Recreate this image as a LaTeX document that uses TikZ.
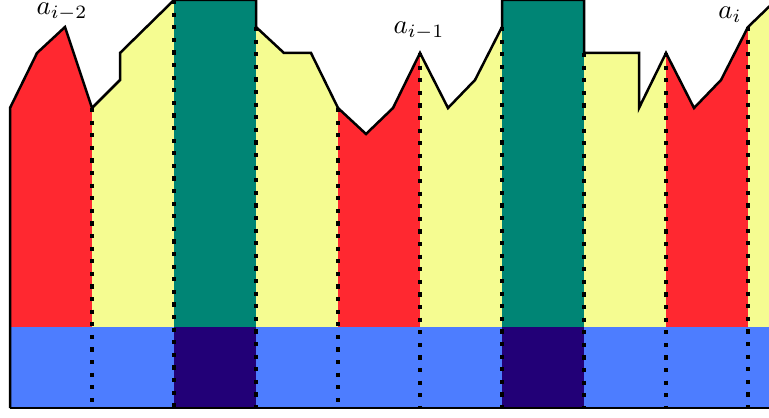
\documentclass[tikz,border=0pt]{standalone}
\definecolor{cred}{RGB}{255,40,48}
\definecolor{cyel}{RGB}{245,252,145}
\definecolor{cteal}{RGB}{0,133,117}
\definecolor{cblue}{RGB}{77,125,255}
\definecolor{cnavy}{RGB}{34,0,119}
\tikzset{
  outline/.style={line width=1.25pt,black},
  sep/.style={line width=1.6pt,black,dash pattern=on 2.1pt off 4.2pt},
  lab/.style={inner sep=0pt,scale=1.35}
}
\begin{document}
\begin{tikzpicture}[x=0.5pt,y=-0.5pt]
\useasboundingbox (0,0) rectangle (769,417);
\clip (0,0) rectangle (769,417);
\def\prof{(10,108) -- (37,53) -- (65,27) -- (92,108) -- (120,80) -- (120,53) -- (174,0) -- (256,0) -- (256,27) -- (284,53) -- (311,53) -- (338,108) -- (366,134) -- (393,108) -- (420,53) -- (448,108) -- (475,80) -- (502,27) -- (502,0) -- (584,0) -- (584,53) -- (639,53) -- (639,108) -- (666,53) -- (694,108) -- (721,80) -- (748,27) -- (776,0) -- (810,-34)}
% upper coloured columns
\begin{scope}
  \clip \prof -- (810,327) -- (10,327) -- cycle;
  \fill[cred]  (10,-50) rectangle (92,327);
  \fill[cyel]  (92,-50) rectangle (174,327);
  \fill[cteal] (174,-50) rectangle (256,327);
  \fill[cyel]  (256,-50) rectangle (338,327);
  \fill[cred]  (338,-50) rectangle (420,327);
  \fill[cyel]  (420,-50) rectangle (502,327);
  \fill[cteal] (502,-50) rectangle (584,327);
  \fill[cyel]  (584,-50) rectangle (666,327);
  \fill[cred]  (666,-50) rectangle (748,327);
  \fill[cyel]  (748,-50) rectangle (830,327);
\end{scope}
% lower band
\fill[cblue] (10,327) rectangle (830,408);
\fill[cnavy] (174,327) rectangle (256,408);
\fill[cnavy] (502,327) rectangle (584,408);
% separators
\foreach \x/\y in {92/108,174/0,256/27,338/108,420/53,502/27,584/53,666/53,748/27}
  \draw[sep] (\x,\y) -- (\x,408);
% outline
\draw[outline] (10,408) -- \prof;
\draw[outline] (10,408) -- (830,408);
% labels
\node[lab] (l1) at (62,12) {$a_{i-2}$};
\node[lab] (l2) at (419,31) {$a_{i-1}$};
\node[lab] (l3) at (730,15) {$a_i$};
\end{tikzpicture}
\end{document}
